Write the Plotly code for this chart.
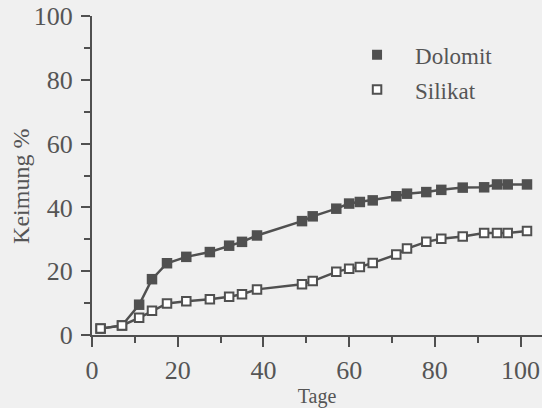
import plotly.graph_objects as go

tage = [2, 7, 11, 14, 17.5, 22, 27.5, 32, 35, 38.5, 49, 51.5, 57, 60, 62.5, 65.5,
        71, 73.5, 78, 81.5, 86.5, 91.5, 94.5, 97, 101.5]
dolomit = [2, 3, 9.5, 17.5, 22.5, 24.5, 26, 28, 29.2, 31.2, 35.7, 37.2, 39.6, 41.2,
           41.7, 42.2, 43.5, 44.3, 44.8, 45.5, 46.2, 46.3, 47.2, 47.2, 47.2]
silikat = [2, 3, 5.4, 7.6, 9.9, 10.6, 11.2, 12, 12.8, 14.3, 15.9, 16.9, 19.8, 20.8,
           21.3, 22.6, 25.2, 27.1, 29.2, 30.2, 30.9, 32, 32, 32, 32.6]
x_ticks = [0, 20, 40, 60, 80, 100]
y_ticks = [0, 20, 40, 60, 80, 100]

INK = "#505050"
TXT = "#555555"
BG = "#f0f0f0"
FONT = "Times New Roman, Liberation Serif, serif"

fig = go.Figure()
fig.add_trace(go.Scatter(
    x=tage, y=dolomit, mode="lines+markers", name="Dolomit", showlegend=False,
    line=dict(color=INK, width=2.5),
    marker=dict(symbol="square", size=10.5, color=INK, line=dict(width=0)),
    cliponaxis=False))
fig.add_trace(go.Scatter(
    x=tage, y=silikat, mode="lines+markers", name="Silikat", showlegend=False,
    line=dict(color=INK, width=2.5),
    marker=dict(symbol="square", size=8.5, color="white", line=dict(color=INK, width=2)),
    cliponaxis=False))
# legend entries (markers only)
fig.add_trace(go.Scatter(
    x=[None], y=[None], mode="markers", name="Dolomit", legendgroup="d",
    marker=dict(symbol="square", size=10, color=INK, line=dict(width=0))))
fig.add_trace(go.Scatter(
    x=[None], y=[None], mode="markers", name="Silikat", legendgroup="s",
    marker=dict(symbol="square", size=8.5, color="white", line=dict(color=INK, width=2))))

fig.update_layout(
    width=542, height=408,
    margin=dict(l=92, r=0, t=16, b=73),
    paper_bgcolor=BG, plot_bgcolor=BG,
    font=dict(family=FONT, size=26, color=TXT),
    legend=dict(x=0.549, y=0.946, xanchor="left", yanchor="top",
                bgcolor="rgba(0,0,0,0)", itemwidth=66,
                traceorder="grouped", tracegroupgap=2,
                font=dict(family=FONT, size=23, color=TXT)),
    annotations=[dict(text="Keimung %", textangle=-90, xref="paper", yref="paper",
                      x=-0.158, y=0.467, xanchor="center", yanchor="middle",
                      showarrow=False, font=dict(family=FONT, size=24, color=TXT))],
)
fig.update_xaxes(
    range=[0, 105], showgrid=False, zeroline=False,
    showline=True, linecolor=INK, linewidth=2,
    ticks="outside", ticklen=10, tickwidth=2, tickcolor=INK,
    tickvals=x_ticks, ticktext=[str(v) for v in x_ticks],
    ticklabelstandoff=1,
    minor=dict(ticks="outside", ticklen=6, tickwidth=2, tickcolor=INK, dtick=10, tick0=0, showgrid=False),
    title=dict(text="Tage", font=dict(family=FONT, size=20, color=TXT), standoff=2),
)
fig.update_yaxes(
    range=[0, 100], showgrid=False, zeroline=False,
    showline=True, linecolor=INK, linewidth=2,
    ticks="outside", ticklen=9, tickwidth=2, tickcolor=INK,
    tickvals=y_ticks, ticktext=[str(v) for v in y_ticks],
    ticklabelstandoff=3,
    minor=dict(ticks="outside", ticklen=6, tickwidth=2, tickcolor=INK, dtick=10, tick0=0, showgrid=False),
)

fig.write_html("out.html", config={"displayModeBar": False},
               post_script="document.body.style.margin='0';")
